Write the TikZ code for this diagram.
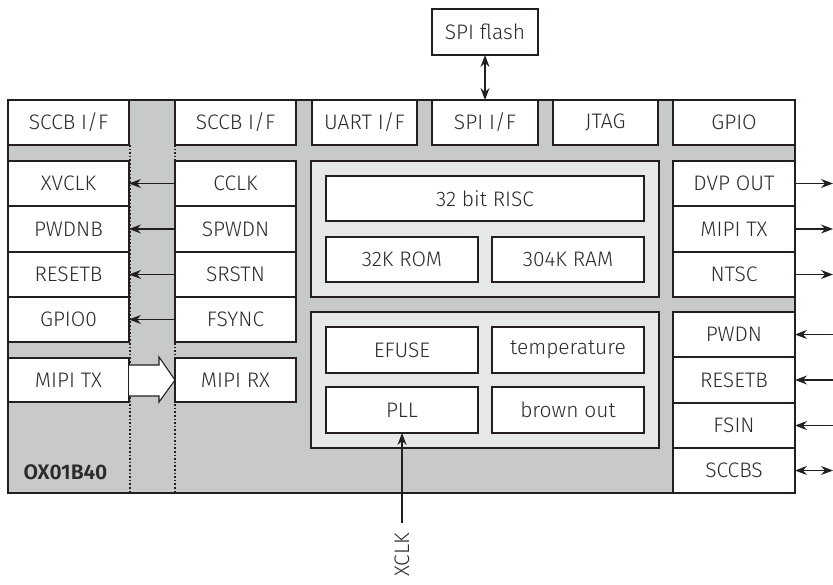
\documentclass[tikz,border=0pt]{standalone}
\usepackage{fontspec}
\setmainfont{Fira Sans}[UprightFont=* Light, BoldFont=* SemiBold]
\usetikzlibrary{arrows.meta}
\definecolor{chipgray}{HTML}{C8C9CB}
\definecolor{panelgray}{HTML}{E6E7E8}
\definecolor{txt}{HTML}{2B2B2B}
\definecolor{ln}{HTML}{231F20}
\begin{document}
\begin{tikzpicture}[x=1pt,y=-1pt,
  box/.style={draw=ln, line width=2.2pt, fill=white, inner sep=0pt, outer sep=0pt, text=txt,
     font=\fontsize{21}{23}\selectfont},
  panel/.style={draw=ln, line width=2.2pt, fill=panelgray, inner sep=0pt, outer sep=0pt},
  sig/.style={draw=ln, line width=1.1pt, -{Stealth[length=12pt,width=9pt,inset=4pt]}},
  sig2/.style={draw=ln, line width=1.1pt, {Stealth[length=12pt,width=9pt,inset=4pt]}-{Stealth[length=12pt,width=9pt,inset=4pt]}},
  sepline/.style={draw=ln, line width=1.6pt, dotted}
]
\useasboundingbox (0,0) rectangle (833,584);
% chip body
\node[draw=ln, line width=2.2pt, fill=chipgray, inner sep=0pt, outer sep=0pt,
  minimum width=787pt, minimum height=393pt] (chip) at (401.5,296.5) {};
\coordinate (dA1) at (130,145); \coordinate (dA2) at (130,493);
\coordinate (dB1) at (175,145); \coordinate (dB2) at (175,493);
\draw[sepline] (dA1) -- (dA2);
\draw[sepline] (dB1) -- (dB2);
\node[anchor=west, text=txt, font=\fontsize{21}{23}\selectfont\bfseries] (name) at (20,472) {OX01B40};
% top row
\node[box, minimum width=121pt, minimum height=45pt] (sccbA) at (68.5,122.5) {SCCB I/F};
\node[box, minimum width=121pt, minimum height=45pt] (sccbB) at (235.5,122.5) {SCCB I/F};
\node[box, minimum width=105pt, minimum height=45pt] (uart) at (364.5,122.5) {UART I/F};
\node[box, minimum width=106pt, minimum height=45pt] (spiif) at (485,122.5) {SPI I/F};
\node[box, minimum width=105pt, minimum height=45pt] (jtag) at (605.5,122.5) {JTAG};
\node[box, minimum width=122pt, minimum height=45pt] (gpio) at (734,122.5) {GPIO};
\node[box, minimum width=106pt, minimum height=46pt] (flash) at (485,32) {SPI flash};
\draw[sig2] (flash.south) -- (spiif.north);
% left column
\node[box, minimum width=121pt, minimum height=45pt] (xvclk) at (68.5,183.5) {XVCLK};
\node[box, minimum width=121pt, minimum height=46pt] (pwdnb) at (68.5,229) {PWDNB};
\node[box, minimum width=121pt, minimum height=45pt] (resetbL) at (68.5,274.5) {RESETB};
\node[box, minimum width=121pt, minimum height=45pt] (gpio0) at (68.5,319.5) {GPIO0};
\node[box, minimum width=121pt, minimum height=44pt] (mipitxL) at (68.5,380) {MIPI TX};
% second column
\node[box, minimum width=121pt, minimum height=45pt] (cclk) at (235.5,183.5) {CCLK};
\node[box, minimum width=121pt, minimum height=46pt] (spwdn) at (235.5,229) {SPWDN};
\node[box, minimum width=121pt, minimum height=45pt] (srstn) at (235.5,274.5) {SRSTN};
\node[box, minimum width=121pt, minimum height=45pt] (fsync) at (235.5,319.5) {FSYNC};
\node[box, minimum width=121pt, minimum height=44pt] (mipirx) at (235.5,380) {MIPI RX};
\draw[sig] (cclk.west) -- (xvclk.east);
\draw[sig] (spwdn.west) -- (pwdnb.east);
\draw[sig] (srstn.west) -- (resetbL.east);
\draw[sig] (fsync.west) -- (gpio0.east);
% block arrow
\draw[draw=ln, line width=1.1pt, fill=white, line join=miter]
  (mipitxL.east |- 0,365) -- (159,365) -- (159,357) -- (mipirx.west)
  -- (159,402) -- (159,396) -- (mipitxL.east |- 0,396);
% center panels
\node[panel, minimum width=348pt, minimum height=136pt] (upper) at (485,229) {};
\node[panel, minimum width=348pt, minimum height=136pt] (lower) at (485,380) {};
\node[box, minimum width=318pt, minimum height=45pt] (risc) at (485,198.5) {32 bit RISC};
\node[box, minimum width=152pt, minimum height=45pt] (rom) at (402,259.5) {32K ROM};
\node[box, minimum width=152pt, minimum height=45pt] (ram) at (568,259.5) {304K RAM};
\node[box, minimum width=152pt, minimum height=46pt] (efuse) at (402,350) {EFUSE};
\node[box, minimum width=152pt, minimum height=46pt] (temp) at (568,350) {temperature};
\node[box, minimum width=152pt, minimum height=46pt] (pll) at (402,410) {PLL};
\node[box, minimum width=152pt, minimum height=46pt] (brown) at (568,410) {brown out};
\coordinate (xclkend) at (402,523);
\draw[sig] (xclkend) -- (pll.south);
\node[rotate=90, text=txt, font=\fontsize{21}{23}\selectfont] (xclk) at (402,555) {XCLK};
% right column
\node[box, minimum width=122pt, minimum height=45pt] (dvp) at (734,183.5) {DVP OUT};
\node[box, minimum width=122pt, minimum height=46pt] (mipitxR) at (734,229) {MIPI TX};
\node[box, minimum width=122pt, minimum height=45pt] (ntsc) at (734,274.5) {NTSC};
\node[box, minimum width=122pt, minimum height=45pt] (pwdn) at (734,334.5) {PWDN};
\node[box, minimum width=122pt, minimum height=46pt] (resetbR) at (734,380) {RESETB};
\node[box, minimum width=122pt, minimum height=45pt] (fsin) at (734,425.5) {FSIN};
\node[box, minimum width=122pt, minimum height=45pt] (sccbs) at (734,470.5) {SCCBS};
\coordinate (o1) at (833,183.5);
\coordinate (o2) at (833,229);
\coordinate (o3) at (833,274.5);
\coordinate (i1) at (833,334.5);
\coordinate (i2) at (833,380);
\coordinate (i3) at (833,425.5);
\coordinate (i4) at (833,470.5);
\draw[sig] (dvp.east) -- (o1);
\draw[sig] (mipitxR.east) -- (o2);
\draw[sig] (ntsc.east) -- (o3);
\draw[sig] (i1) -- (pwdn.east);
\draw[sig] (i2) -- (resetbR.east);
\draw[sig] (i3) -- (fsin.east);
\draw[sig2] (i4) -- (sccbs.east);
\end{tikzpicture}
\end{document}
